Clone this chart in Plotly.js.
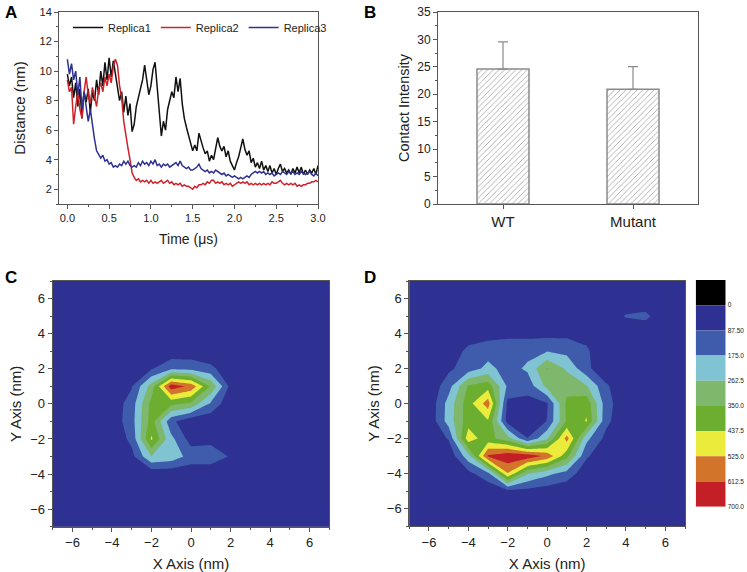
<!DOCTYPE html>
<html>
<head>
<meta charset="utf-8">
<script src="https://cdn.plot.ly/plotly-3.0.1.min.js"></script>
<style>html,body{margin:0;padding:0;background:#fff}#fig{width:747px;height:572px}</style>
</head>
<body>
<div id="fig"></div>
<script>
// ---- panel A: distance vs time ----
var time = [0,0.025,0.05,0.075,0.1,0.125,0.15,0.175,0.2,0.225,0.25,0.275,0.3,0.325,0.35,0.375,0.4,0.425,0.45,0.475,
  0.5,0.525,0.55,0.575,0.6,0.625,0.65,0.675,0.7,0.725,0.75,0.775,0.8,0.825,0.85,0.875,0.9,0.925,0.95,0.975,
  1,1.025,1.05,1.075,1.1,1.125,1.15,1.175,1.2,1.225,1.25,1.275,1.3,1.325,1.35,1.375,1.4,1.425,1.45,1.475,
  1.5,1.525,1.55,1.575,1.6,1.625,1.65,1.675,1.7,1.725,1.75,1.775,1.8,1.825,1.85,1.875,1.9,1.925,1.95,1.975,
  2,2.025,2.05,2.075,2.1,2.125,2.15,2.175,2.2,2.225,2.25,2.275,2.3,2.325,2.35,2.375,2.4,2.425,2.45,2.475,
  2.5,2.525,2.55,2.575,2.6,2.625,2.65,2.675,2.7,2.725,2.75,2.775,2.8,2.825,2.85,2.875,2.9,2.925,2.95,2.975,3];

var replica1 = [9.8,9.0,9.6,8.2,9.2,7.6,8.8,6.8,8.6,7.9,
  8.8,7.2,8.6,8.0,9.4,8.4,10.0,9.0,10.6,9.4,
  10.9,9.6,10.7,9.8,9.2,8.0,8.6,7.2,8.3,7.0,
  7.8,5.9,6.4,7.6,8.2,8.8,9.4,10.4,9.2,8.4,
  9.0,10.1,10.6,9.0,7.4,5.6,6.6,6.0,7.4,8.0,
  8.6,8.2,9.6,8.6,9.5,7.8,6.8,6.2,5.6,5.0,
  4.6,5.0,4.6,5.8,5.2,4.8,4.4,4.6,3.9,4.3,
  4.0,4.8,5.5,4.9,4.6,4.9,4.2,4.6,3.9,3.6,
  3.3,3.8,4.2,4.8,5.4,4.7,4.3,4.6,3.8,4.1,
  3.5,3.8,3.4,3.9,3.3,3.6,3.2,3.6,3.1,3.4,
  3.0,3.4,3.7,3.2,3.4,3.1,3.3,3.0,3.4,3.1,
  3.5,3.1,3.5,3.0,3.3,3.0,3.3,3.1,3.4,3.0,
  3.6];

var replica2 = [9.4,8.6,8.9,6.4,7.6,8.6,7.4,6.8,8.6,9.6,
  8.4,7.8,8.9,8.2,7.6,8.8,9.2,8.6,9.6,9.0,
  9.8,9.2,10.3,10.8,10.4,9.0,8.2,6.6,5.6,4.8,
  4.0,3.1,2.8,2.6,2.7,2.5,2.6,2.5,2.6,2.4,
  2.6,2.4,2.5,2.4,2.5,2.6,2.4,2.5,2.6,2.4,
  2.5,2.3,2.4,2.3,2.4,2.2,2.3,2.2,2.2,2.1,
  2.0,2.2,2.1,2.3,2.3,2.4,2.3,2.5,2.4,2.6,
  2.6,2.4,2.5,2.4,2.5,2.3,2.4,2.3,2.4,2.2,
  2.3,2.4,2.5,2.4,2.5,2.4,2.5,2.3,2.4,2.3,
  2.4,2.3,2.4,2.3,2.4,2.3,2.4,2.3,2.5,2.4,
  2.4,2.5,2.6,2.4,2.3,2.4,2.3,2.4,2.3,2.4,
  2.2,2.3,2.2,2.3,2.3,2.4,2.4,2.5,2.5,2.6,
  2.5];

var replica3 = [10.8,9.8,10.5,9.4,10.0,8.4,9.6,7.4,8.6,7.6,
  6.6,7.4,6.2,5.4,4.6,4.3,4.1,4.3,3.9,4.0,
  3.7,3.8,3.5,3.6,3.5,3.7,3.6,3.9,3.7,3.9,
  3.6,3.5,3.6,3.5,3.8,3.6,3.9,3.7,3.8,3.6,
  3.9,3.7,4.0,3.6,3.7,3.5,3.7,3.6,3.7,3.5,
  3.6,3.7,3.8,3.6,3.9,3.6,3.5,3.4,3.5,3.3,
  3.3,3.4,3.5,3.7,3.4,3.3,3.2,3.3,3.1,3.2,
  3.1,3.3,3.2,3.1,3.0,3.1,2.9,3.0,2.9,2.8,
  2.9,2.8,2.7,2.8,2.7,2.8,2.9,2.8,3.0,3.1,
  3.2,3.1,3.2,3.1,3.2,3.0,3.1,3.0,3.1,2.9,
  3.0,3.1,3.0,3.2,3.1,3.0,3.2,3.1,3.2,3.0,
  3.1,3.0,3.2,3.1,3.0,3.1,3.2,3.0,2.9,3.1,
  2.9];

// ---- panel B: contact intensity ----
var groups = ['WT', 'Mutant'];
var intensity = [24.6, 20.9];
var intensityErr = [4.95, 4.15];

// ---- panels C and D: contact maps on a 1 nm grid ----
var gridX = [-7,-6,-5,-4,-3,-2,-1,0,1,2,3,4,5,6,7];
var gridY = [-7,-6,-5,-4,-3,-2,-1,0,1,2,3,4,5,6,7];
// rows listed from y = 7 (top) down to y = -7
var mapWT = [
  [20,20,20,20,20,20,20,20,20,20,20,20,20,20,20],
  [20,20,20,20,20,20,20,20,20,20,20,20,20,20,20],
  [20,20,20,20,20,20,20,20,20,20,20,20,20,20,20],
  [20,20,20,20,20,20,20,20,20,20,20,20,20,20,20],
  [20,20,20,20,20,20,30,30,20,20,20,20,20,20,20],
  [20,20,20,20,20,80,160,150,110,30,20,20,20,20,20],
  [20,20,20,20,80,300,665,590,340,60,20,20,20,20,20],
  [20,20,20,30,130,380,370,330,160,20,20,20,20,20,20],
  [20,20,20,30,140,390,110,20,20,20,20,20,20,20,20],
  [20,20,20,20,110,450,200,50,60,20,20,20,20,20,20],
  [20,20,20,20,60,260,230,140,140,80,20,20,20,20,20],
  [20,20,20,20,20,20,20,20,20,20,20,20,20,20,20],
  [20,20,20,20,20,20,20,20,20,20,20,20,20,20,20],
  [20,20,20,20,20,20,20,20,20,20,20,20,20,20,20],
  [20,20,20,20,20,20,20,20,20,20,20,20,20,20,20]
];
var mapMutant = [
  [20,20,20,20,20,20,20,20,20,20,20,20,20,20,20],
  [20,20,20,20,20,20,20,20,20,20,20,20,20,20,20],
  [20,20,20,20,20,20,20,20,20,20,20,95,110,20,20],
  [20,20,20,40,50,60,60,60,65,60,20,20,20,20,20],
  [20,20,30,110,140,150,150,170,150,100,20,20,20,20,20],
  [20,20,70,130,200,140,190,355,250,110,20,20,20,20,20],
  [20,20,140,360,400,160,120,290,320,270,100,20,20,20,20],
  [20,20,210,400,570,60,60,80,370,410,125,20,20,20,20],
  [20,20,215,400,430,50,20,90,360,445,110,20,20,20,20],
  [20,20,95,490,380,300,90,250,560,200,60,20,20,20,20],
  [20,20,20,230,625,680,670,590,380,100,20,20,20,20,20],
  [20,20,20,60,150,520,270,200,140,30,20,20,20,20,20],
  [20,20,20,20,20,60,60,40,20,20,20,20,20,20,20],
  [20,20,20,20,20,20,20,20,20,20,20,20,20,20,20],
  [20,20,20,20,20,20,20,20,20,20,20,20,20,20,20]
];
var levels = [0, 87.5, 175, 262.5, 350, 437.5, 525, 612.5, 700];
var levelLabels = ['0', '87.50', '175.0', '262.5', '350.0', '437.5', '525.0', '612.5', '700.0'];
var bandColors = ['#000000','#2E3192','#3E5CAB','#80C3D3','#7DB86C','#6CAF30','#EBEB3C','#D2742A','#C21F26'];

var font = 'Liberation Sans, Arial, sans-serif';
var ink = '#222';

var scale = bandColors.map(function(c, i) { return [i / 9, c]; });
scale.push([1, bandColors[bandColors.length - 1]]);

function contourTrace(rows, xa, ya) {
  return {
    type: 'contour', x: gridX, y: gridY, z: rows.slice().reverse(),
    xaxis: xa, yaxis: ya, autocontour: false,
    contours: {start: levels[0], end: levels[levels.length - 1], size: levels[1] - levels[0],
               coloring: 'fill', showlines: false},
    line: {width: 0, smoothing: 0},
    colorscale: scale, showscale: false, hoverinfo: 'skip', showlegend: false
  };
}

var data = [
  {type: 'scatter', mode: 'lines', x: time, y: replica1, name: 'Replica1', line: {color: '#111111', width: 1.5}},
  {type: 'scatter', mode: 'lines', x: time, y: replica2, name: 'Replica2', line: {color: '#D0202A', width: 1.5}},
  {type: 'scatter', mode: 'lines', x: time, y: replica3, name: 'Replica3', line: {color: '#2E3192', width: 1.5}},
  {type: 'bar', x: groups, y: intensity, width: 0.4, xaxis: 'x2', yaxis: 'y2', showlegend: false,
   marker: {color: '#ffffff', line: {color: '#8a8a8a', width: 1.5},
            pattern: {shape: '/', fgcolor: '#a0a0a0', bgcolor: '#ffffff', size: 4, solidity: 0.2}},
   error_y: {type: 'data', symmetric: false, array: intensityErr, arrayminus: [0, 0],
             color: '#8a8a8a', thickness: 1.2, width: 5}},
  contourTrace(mapWT, 'x3', 'y3'),
  contourTrace(mapMutant, 'x4', 'y4'),
  {type: 'bar', x: bandColors.map(function() { return 0; }), y: bandColors.map(function() { return 1; }),
   base: bandColors.map(function(c, i) { return i; }), width: 1,
   marker: {color: bandColors, line: {width: 0}}, xaxis: 'x5', yaxis: 'y5', showlegend: false, hoverinfo: 'skip'}
];

function ax(extra) {
  var a = {showline: true, linecolor: '#555', linewidth: 1, mirror: true, ticks: 'outside', ticklen: 4,
           tickcolor: '#555', showgrid: false, zeroline: false, fixedrange: true,
           tickfont: {family: font, size: 11, color: ink}};
  for (var k in extra) a[k] = extra[k];
  return a;
}
function px(v) { return v / 747; }
function py(v) { return 1 - v / 572; }

var layout = {
  width: 747, height: 572,
  margin: {l: 0, r: 0, t: 0, b: 0},
  paper_bgcolor: '#fff', plot_bgcolor: '#fff',
  font: {family: font, color: ink},
  showlegend: true,
  legend: {orientation: 'h', x: px(68), y: py(13), xanchor: 'left', yanchor: 'top',
           font: {family: font, size: 11, color: ink}, bgcolor: 'rgba(0,0,0,0)', itemwidth: 30},
  xaxis: ax({domain: [px(59), px(318)], range: [-0.1, 3.0], tick0: 0, dtick: 0.5, tickformat: '.1f', anchor: 'y',
             minor: {dtick: 0.25, ticklen: 2, ticks: 'outside', tickcolor: '#555'},
             title: {text: 'Time (μs)', standoff: 10, font: {family: font, size: 14, color: ink}}}),
  yaxis: ax({domain: [py(204), py(12)], range: [1, 14], tick0: 0, dtick: 2, anchor: 'x',
             minor: {dtick: 1, ticklen: 2, ticks: 'outside', tickcolor: '#555'},
             title: {text: 'Distance (nm)', standoff: 10, font: {family: font, size: 15, color: ink}}}),
  xaxis2: ax({domain: [px(438), px(698)], range: [-0.5, 1.5], type: 'category', anchor: 'y2',
              tickfont: {family: font, size: 15, color: ink}}),
  yaxis2: ax({domain: [py(204), py(12)], range: [0, 35], dtick: 5, anchor: 'x2',
              tickfont: {family: font, size: 12, color: ink},
              minor: {dtick: 2.5, ticklen: 2, ticks: 'outside', tickcolor: '#555'},
              title: {text: 'Contact Intensity', standoff: 4, font: {family: font, size: 14.5, color: ink}}}),
  xaxis3: ax({domain: [px(52.7), px(329.3)], range: [-7, 7], dtick: 2, anchor: 'y3',
              tickfont: {family: font, size: 13, color: ink},
              minor: {dtick: 1, ticklen: 2, ticks: 'outside', tickcolor: '#555'},
              title: {text: 'X Axis (nm)', font: {family: font, size: 15, color: ink}}}),
  yaxis3: ax({domain: [py(526.7), py(281)], range: [-7, 7], dtick: 2, anchor: 'x3',
              tickfont: {family: font, size: 13, color: ink},
              minor: {dtick: 1, ticklen: 2, ticks: 'outside', tickcolor: '#555'},
              title: {text: 'Y Axis (nm)', standoff: 5, font: {family: font, size: 15, color: ink}}}),
  xaxis4: ax({domain: [px(409.3), px(685)], range: [-7, 7], dtick: 2, anchor: 'y4',
              tickfont: {family: font, size: 13, color: ink},
              minor: {dtick: 1, ticklen: 2, ticks: 'outside', tickcolor: '#555'},
              title: {text: 'X Axis (nm)', font: {family: font, size: 15, color: ink}}}),
  yaxis4: ax({domain: [py(526), py(281)], range: [-7, 7], dtick: 2, anchor: 'x4',
              tickfont: {family: font, size: 13, color: ink},
              minor: {dtick: 1, ticklen: 2, ticks: 'outside', tickcolor: '#555'},
              title: {text: 'Y Axis (nm)', standoff: 3, font: {family: font, size: 15, color: ink}}}),
  xaxis5: {domain: [px(695.7), px(725.7)], range: [-0.5, 0.5], visible: false, anchor: 'y5', fixedrange: true},
  yaxis5: {domain: [py(506.7), py(280)], range: [9, 0], anchor: 'x5', side: 'right',
           tickvals: [1,2,3,4,5,6,7,8,9], ticktext: levelLabels, ticks: '', showline: false,
           showgrid: false, zeroline: false, fixedrange: true, ticklabelstandoff: 1,
           tickfont: {family: font, size: 6.5, color: ink}},
  annotations: [
    {text: '<b>A</b>', x: px(3), y: py(12.5), xref: 'paper', yref: 'paper', xanchor: 'left', yanchor: 'middle', showarrow: false, font: {family: font, size: 17, color: '#000'}},
    {text: '<b>B</b>', x: px(362), y: py(12.5), xref: 'paper', yref: 'paper', xanchor: 'left', yanchor: 'middle', showarrow: false, font: {family: font, size: 17, color: '#000'}},
    {text: '<b>C</b>', x: px(3), y: py(277.5), xref: 'paper', yref: 'paper', xanchor: 'left', yanchor: 'middle', showarrow: false, font: {family: font, size: 17, color: '#000'}},
    {text: '<b>D</b>', x: px(362), y: py(277.5), xref: 'paper', yref: 'paper', xanchor: 'left', yanchor: 'middle', showarrow: false, font: {family: font, size: 17, color: '#000'}}
  ]
};

Plotly.newPlot('fig', data, layout, {displayModeBar: false, staticPlot: true});
</script>
</body>
</html>
